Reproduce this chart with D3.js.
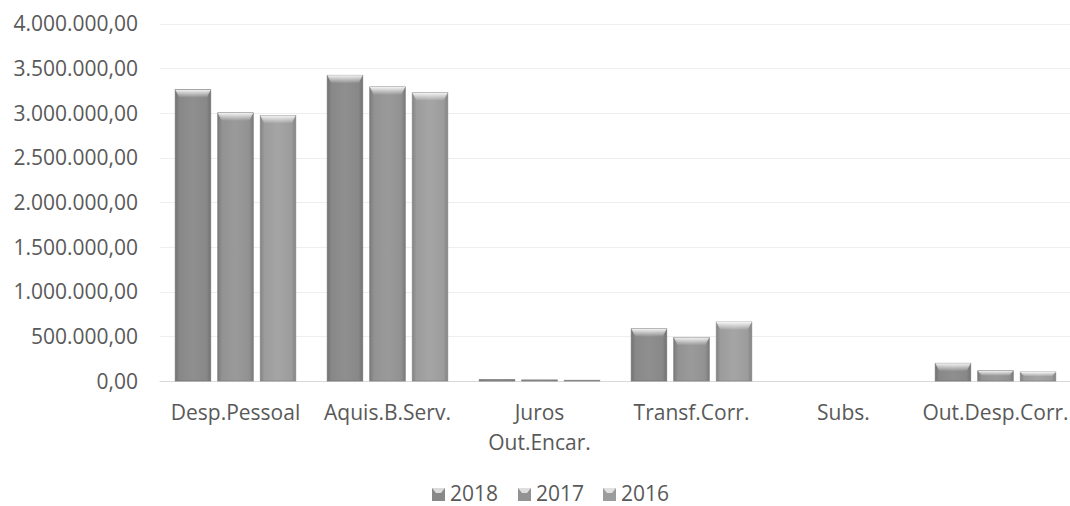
<!DOCTYPE html>
<html><head><meta charset="utf-8">
<script src="https://cdn.jsdelivr.net/npm/d3@7"></script>
<style>
html,body{margin:0;padding:0;background:#fff;}
svg{display:block;}
text{font-family:"Open Sans",sans-serif;fill:#595959;}
</style></head>
<body><svg id="c" width="1070" height="506"></svg>
<script>
const categories = ["Desp.Pessoal","Aquis.B.Serv.","Juros\nOut.Encar.","Transf.Corr.","Subs.","Out.Desp.Corr."];
const seriesNames = ["2018","2017","2016"];
const v2018 = [3260000, 3420000, 15000, 584000, 0, 198000];
const v2017 = [3000000, 3290000, 12000, 488000, 0, 115000];
const v2016 = [2970000, 3225000, 8000, 659000, 0, 100000];
const yTicks = [0,500000,1000000,1500000,2000000,2500000,3000000,3500000,4000000];
const seriesValues = [v2018, v2017, v2016];
const colors = ["#888888","#929292","#9c9c9c"];

const svg = d3.select("#c");
const FS = "21px";
const x0 = d3.scaleBand().domain(categories).range([159.5, 1071.5]);
const x1 = d3.scaleBand().domain(seriesNames).range([0, x0.bandwidth()]).paddingInner(0.165).paddingOuter(0.37);
const y = d3.scaleLinear().domain([0,4000000]).range([381, 23.5]);

const fmt = v => {
  const s = d3.format(",.2f")(v);
  return s.replace(/,/g,"#").replace(/\./g,",").replace(/#/g,".");
};

const defs = svg.append("defs");
colors.forEach((c,i)=>{
  const g = defs.append("linearGradient").attr("id","g"+i).attr("x1","0").attr("x2","1").attr("y1","0").attr("y2","0");
  const d = d3.color(c).darker(0.5), l = d3.color(c).brighter(0.15);
  g.append("stop").attr("offset","0").attr("stop-color",d);
  g.append("stop").attr("offset","0.12").attr("stop-color",c);
  g.append("stop").attr("offset","0.5").attr("stop-color",l);
  g.append("stop").attr("offset","0.88").attr("stop-color",c);
  g.append("stop").attr("offset","1").attr("stop-color",d);
  const t = defs.append("linearGradient").attr("id","t"+i).attr("x1","0").attr("x2","0").attr("y1","0").attr("y2","1");
  t.append("stop").attr("offset","0").attr("stop-color","#ffffff").attr("stop-opacity",0.9);
  t.append("stop").attr("offset","1").attr("stop-color","#ffffff").attr("stop-opacity",0);
});

// gridlines
svg.append("g").selectAll("line").data(yTicks).join("line")
  .attr("x1", 159.5).attr("x2", 1070)
  .attr("y1", d=>Math.round(y(d))+0.5).attr("y2", d=>Math.round(y(d))+0.5)
  .attr("stroke", d=> d===0 ? "#d9d9d9" : "#eeeeee").attr("stroke-width",1);

const yAxis = d3.axisLeft(y).tickValues(yTicks).tickSize(0).tickPadding(0).tickFormat(fmt);
const ya = svg.append("g").attr("transform","translate(138,0)").call(yAxis);
ya.select(".domain").remove();
ya.selectAll("text").attr("font-size",FS).attr("fill","#595959").attr("font-family","Open Sans, sans-serif").attr("dy","0.35em");

// bars
categories.forEach((cat,ci)=>{
  seriesValues.forEach((vals,si)=>{
    const v = vals[ci];
    if (v <= 0) return;
    const bx = x0(cat) + x1(seriesNames[si]);
    const bw = x1.bandwidth();
    const by = y(v), bh = y(0) - y(v);
    const g = svg.append("g");
    g.append("rect").attr("x",bx).attr("y",by).attr("width",bw).attr("height",bh)
      .attr("fill","url(#g"+si+")").attr("stroke", d3.color(colors[si]).darker(0.4)).attr("stroke-width",0.8);
    const bev = Math.min(8, bh/2);
    if (bh > 2) {
      g.append("path")
        .attr("d", `M${bx},${by} L${bx+bw},${by} L${bx+bw-4},${by+bev} L${bx+4},${by+bev} Z`)
        .attr("fill","url(#t"+si+")");
    }
  });
});

// x axis labels
const xl = svg.append("g");
categories.forEach(cat=>{
  const cx = x0(cat)+x0.bandwidth()/2;
  const t = xl.append("text").attr("text-anchor","middle").attr("font-size",FS).attr("x", cx).attr("y", 420);
  cat.split("\n").forEach((ln,i)=> t.append("tspan").attr("x", cx).attr("dy", i===0?0:30).text(ln));
});

// legend
const legX = [432, 518, 603];
const leg = svg.append("g");
seriesNames.forEach((s,i)=>{
  const gx = legX[i];
  leg.append("rect").attr("x",gx).attr("y",488).attr("width",13).attr("height",13).attr("fill",colors[i]);
  leg.append("path").attr("d",`M${gx},488 L${gx+13},488 L${gx+9},493 L${gx+4},493 Z`).attr("fill","#ffffff").attr("opacity",0.7);
  leg.append("text").attr("x",gx+18).attr("y",501).attr("font-size",FS).text(s);
});
</script></body></html>
